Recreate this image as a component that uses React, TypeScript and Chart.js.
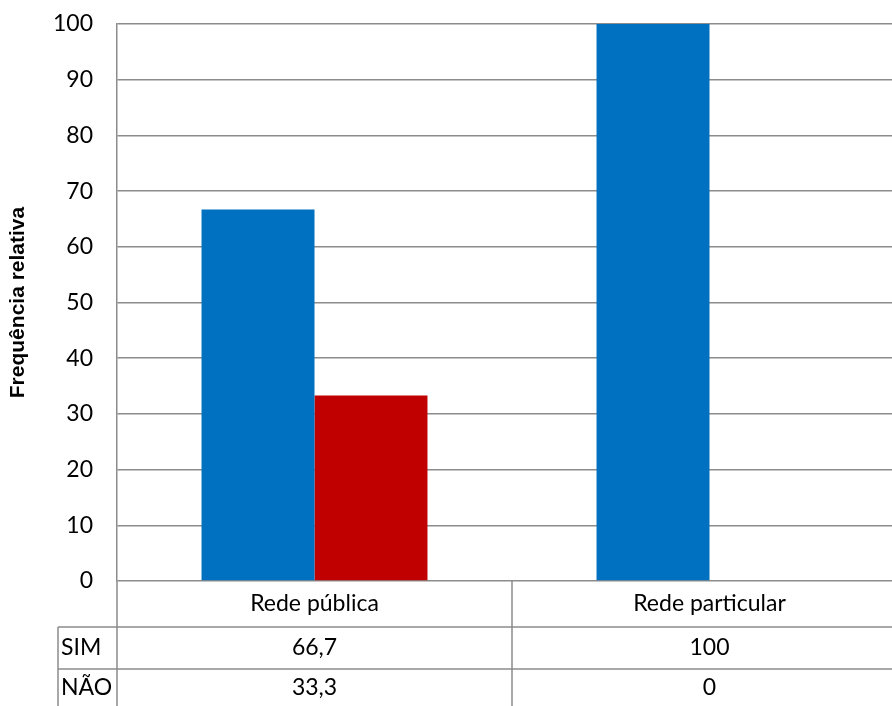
import React, { useEffect, useRef } from "react";
import { Chart, registerables } from "chart.js";

Chart.register(...registerables);

const categories = ["Rede pública", "Rede particular"];
const seriesNames = ["SIM", "NÃO"];
const simValues = [66.7, 100];
const naoValues = [33.3, 0];
const yTicks = [0, 10, 20, 30, 40, 50, 60, 70, 80, 90, 100];
const yTitle = "Frequência relativa";

const FONT = "Lato, 'Open Sans', sans-serif";
const LINE = "#8c8c8c";
const FS = 23;

const fmt = (v: number) => String(v).replace(".", ",");

const dataTablePlugin = {
  id: "dataTable",
  afterDraw(chart: any) {
    const { ctx, chartArea } = chart;
    const x = chart.scales.x;
    const bottom = chartArea.bottom;
    const left = chartArea.left;
    const right = chart.width;
    const row1 = bottom + 46;
    const row2 = row1 + 42;
    const end = chart.height;
    const legendLeft = 58;
    ctx.save();
    ctx.strokeStyle = LINE;
    ctx.lineWidth = 1.5;
    ctx.beginPath();
    ctx.moveTo(legendLeft, row1);
    ctx.lineTo(right, row1);
    ctx.moveTo(legendLeft, row2);
    ctx.lineTo(right, row2);
    ctx.moveTo(left, bottom);
    ctx.lineTo(left, end);
    ctx.moveTo(legendLeft, row1);
    ctx.lineTo(legendLeft, end);
    for (let i = 0; i < categories.length - 1; i++) {
      const b = (x.getPixelForValue(i) + x.getPixelForValue(i + 1)) / 2;
      ctx.moveTo(b, bottom);
      ctx.lineTo(b, end);
    }
    ctx.stroke();

    ctx.fillStyle = "#000";
    ctx.font = `${FS}px ${FONT}`;
    ctx.textBaseline = "middle";
    ctx.textAlign = "center";
    const rowsVals = [simValues, naoValues];
    const rowsY = [(row1 + row2) / 2, (row2 + end) / 2];
    categories.forEach((c, i) => {
      const cx = x.getPixelForValue(i);
      ctx.fillText(c, cx, (bottom + row1) / 2);
      rowsVals.forEach((vals, r) => {
        ctx.fillText(fmt(vals[i]), cx, rowsY[r]);
      });
    });
    ctx.textAlign = "left";
    seriesNames.forEach((n, r) => {
      ctx.fillText(n, legendLeft + 3, rowsY[r]);
    });
    ctx.restore();
  },
};

export default function App() {
  const ref = useRef<HTMLCanvasElement>(null);
  useEffect(() => {
    if (!ref.current) return;
    const chart = new Chart(ref.current, {
      type: "bar",
      data: {
        labels: categories,
        datasets: [
          { label: seriesNames[0], data: simValues, backgroundColor: "#0070C0" },
          { label: seriesNames[1], data: naoValues, backgroundColor: "#C00000" },
        ],
      },
      options: {
        animation: false,
        responsive: false,
        layout: { padding: { left: 0, top: 24, right: 0, bottom: 125 } },
        plugins: {
          legend: { display: false },
          tooltip: { enabled: false },
        },
        datasets: {
          bar: { categoryPercentage: 0.572, barPercentage: 1 },
        },
        scales: {
          x: { display: false },
          y: {
            min: 0,
            max: 100,
            afterFit: (s: any) => {
              s.width = 117;
              s.paddingTop = 0;
              s.paddingBottom = 0;
            },
            afterBuildTicks: (s: any) => {
              s.ticks = yTicks.map((v) => ({ value: v }));
            },
            ticks: {
              font: { family: FONT, size: FS },
              color: "#000",
              padding: 24,
            },
            grid: { color: LINE, lineWidth: 1.5, drawTicks: false },
            border: { display: true, color: LINE, width: 1.5 },
            title: {
              display: true,
              text: yTitle,
              font: { family: "'Liberation Sans', Arial, sans-serif", size: 21, weight: "bold" },
              color: "#000",
              padding: { top: 6, bottom: 0 },
            },
          },
        },
      },
      plugins: [dataTablePlugin],
    } as any);
    return () => chart.destroy();
  }, []);
  return (
    <div
      style={{
        position: "fixed",
        left: 0,
        top: 0,
        width: 892,
        height: 706,
        overflow: "hidden",
        background: "#fff",
      }}
    >
      <canvas ref={ref} width={907} height={706} style={{ display: "block" }} />
    </div>
  );
}
